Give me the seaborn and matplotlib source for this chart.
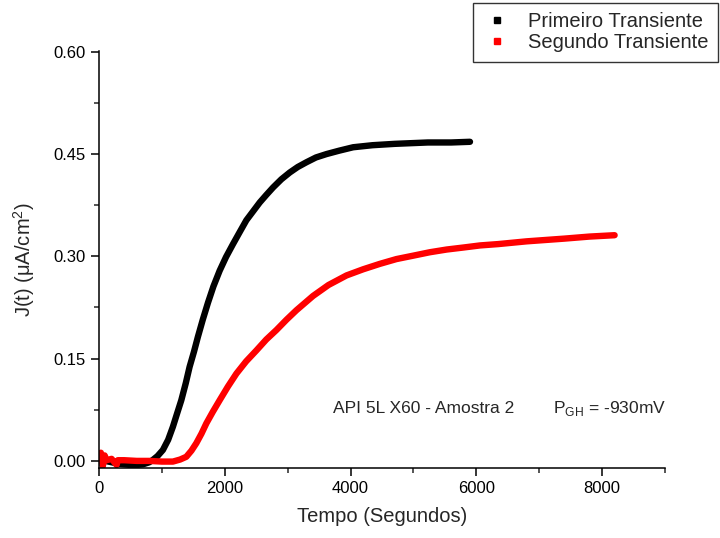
import numpy as np
import matplotlib
matplotlib.use('Agg')
import matplotlib.pyplot as plt
from matplotlib.lines import Line2D
from matplotlib.ticker import MultipleLocator, FormatStrFormatter
import seaborn as sns

# ============================================
# Data
# ============================================
black_t = [0, 100, 200, 300, 400, 500, 600, 700, 800, 857, 930, 1016, 1100,
           1175, 1240, 1309, 1380, 1441, 1510, 1573, 1650, 1733, 1820, 1919,
           2020, 2131, 2240, 2344, 2450, 2556, 2660, 2768, 2900, 3034, 3160,
           3299, 3450, 3618, 3820, 4042, 4350, 4705, 5230, 5600, 5900]
black_j = [0.0, 0.0, -0.002, -0.004, -0.005, -0.006, -0.006, -0.005, -0.002,
           0.0015, 0.007, 0.016, 0.031, 0.050, 0.069, 0.089, 0.114, 0.138,
           0.160, 0.182, 0.207, 0.232, 0.256, 0.279, 0.299, 0.318, 0.336,
           0.353, 0.366, 0.379, 0.390, 0.401, 0.413, 0.423, 0.431, 0.438,
           0.445, 0.450, 0.455, 0.460, 0.463, 0.465, 0.467, 0.467, 0.468]

red_t = [0, 30, 60, 90, 120, 200, 280, 300, 400, 600, 800, 1000, 1175, 1290,
         1388, 1470, 1548, 1630, 1707, 1810, 1919, 2050, 2185, 2340, 2503,
         2660, 2822, 2981, 3140, 3405, 3650, 3936, 4200, 4467, 4730, 4997,
         5260, 5529, 5800, 6059, 6350, 6800, 7400, 7800, 8200]
red_j = [0.002, 0.012, -0.008, 0.008, 0.001, 0.003, -0.006, 0.001, 0.001, 0.0,
         0.0, -0.001, -0.001, 0.002, 0.006, 0.015, 0.026, 0.040, 0.055, 0.072,
         0.089, 0.109, 0.128, 0.146, 0.162, 0.178, 0.192, 0.207, 0.221, 0.242,
         0.258, 0.272, 0.281, 0.289, 0.296, 0.301, 0.306, 0.310, 0.313, 0.316,
         0.318, 0.322, 0.326, 0.329, 0.331]

series_labels = ['Primeiro Transiente', 'Segundo Transiente']
series_colors = ['black', 'red']

# ============================================
# Plot
# ============================================
sns.set_style('ticks')
plt.rcParams['font.family'] = ['Liberation Sans', 'DejaVu Sans']
plt.rcParams['mathtext.fontset'] = 'custom'
plt.rcParams['mathtext.rm'] = 'Liberation Sans'

fig = plt.figure(figsize=(7.2, 5.38), dpi=100)
ax = fig.add_axes([0.1375, 0.130, 0.786, 0.775])

sns.lineplot(x=black_t, y=black_j, color=series_colors[0], linewidth=4.6,
             sort=False, ax=ax, legend=False)
sns.lineplot(x=red_t, y=red_j, color=series_colors[1], linewidth=4.6,
             sort=False, ax=ax, legend=False)

ax.set_xlim(0, 9000)
ax.set_ylim(-0.0105, 0.601)
ax.xaxis.set_major_locator(MultipleLocator(2000))
ax.xaxis.set_minor_locator(MultipleLocator(1000))
ax.yaxis.set_major_locator(MultipleLocator(0.15))
ax.yaxis.set_minor_locator(MultipleLocator(0.075))
ax.yaxis.set_major_formatter(FormatStrFormatter('%.2f'))

sns.despine(ax=ax)
for side in ['left', 'bottom']:
    ax.spines[side].set_linewidth(1.1)
    ax.spines[side].set_color('black')
ax.tick_params(axis='both', which='major', direction='out', length=6,
               width=1.1, labelsize=12, colors='black')
ax.tick_params(axis='both', which='minor', direction='out', length=3.5,
               width=1.1)

ax.set_xlabel('Tempo (Segundos)', fontsize=14.5, labelpad=8)
ax.set_ylabel(r'J(t) ($\mathregular{\mu}$A/cm$^{2}$)', fontsize=14.5, labelpad=12)

ax.text(3720, 0.0765, 'API 5L X60 - Amostra 2', fontsize=12.5, va='center')
ax.text(7220, 0.0765, r'P$_{\mathregular{GH}}$ = -930mV', fontsize=12.5, va='center')

handles = [Line2D([], [], linestyle='none', marker='s', markersize=4.5,
                  color=c) for c in series_colors]
leg = fig.legend(handles, series_labels, loc='upper right',
                 bbox_to_anchor=(718 / 720, 1 - 3 / 538), fontsize=14.5,
                 frameon=True, fancybox=False, edgecolor='black',
                 borderaxespad=0, borderpad=0.45, labelspacing=0.12,
                 handlelength=1.5, handletextpad=0.8)
leg.get_frame().set_linewidth(1.0)

fig.savefig('out.png', dpi=100)
